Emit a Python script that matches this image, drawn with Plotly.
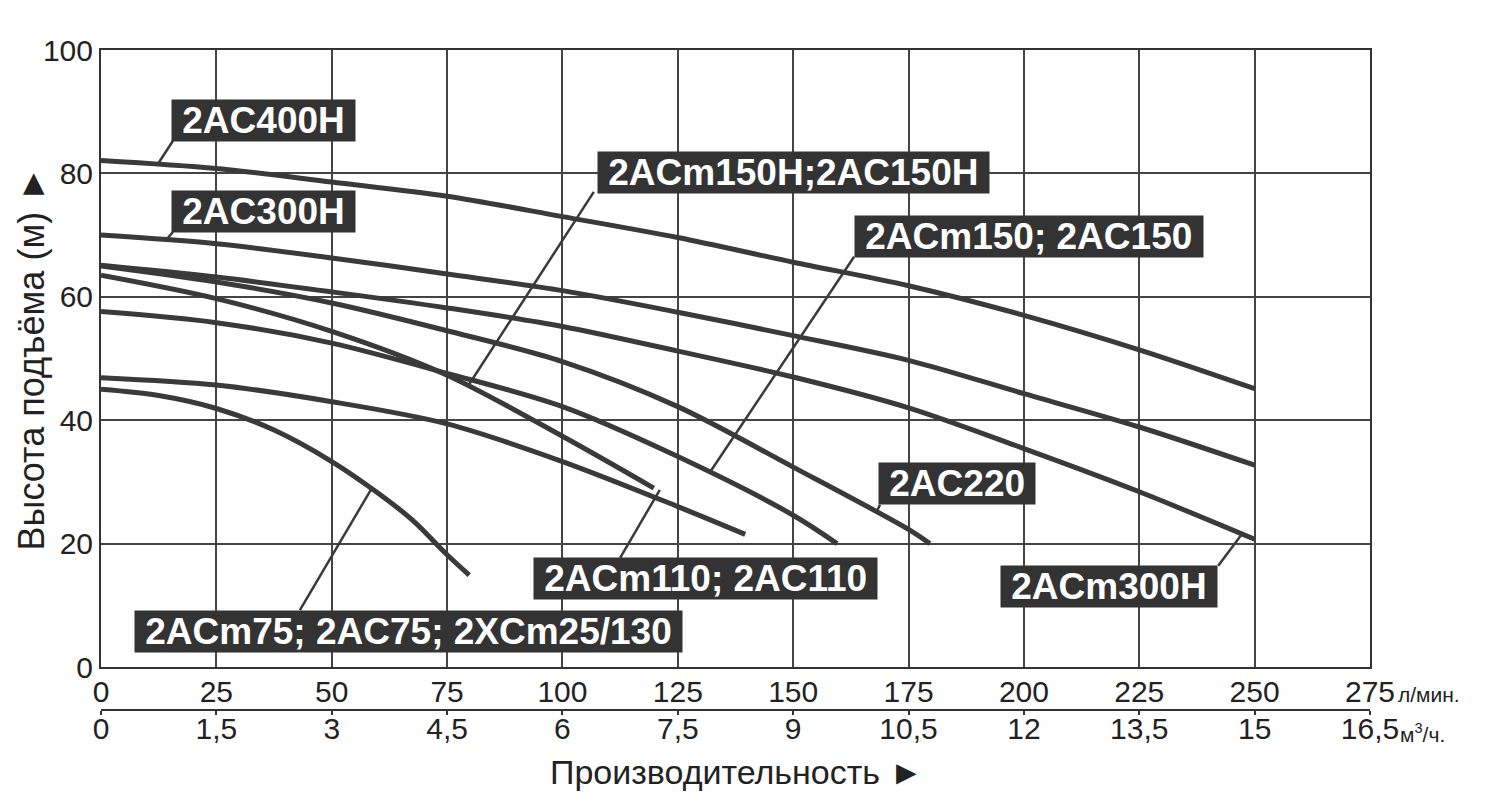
import plotly.graph_objects as go

# flow, l/min (top scale) and m3/h (bottom scale)
lpm_ticks = [0, 25, 50, 75, 100, 125, 150, 175, 200, 225, 250, 275]
m3h_ticks = [0, 1.5, 3, 4.5, 6, 7.5, 9, 10.5, 12, 13.5, 15, 16.5]
m3h_text = ["0", "1,5", "3", "4,5", "6", "7,5", "9", "10,5", "12", "13,5", "15", "16,5"]
head_ticks = [0, 20, 40, 60, 80, 100]

# pump curves (x in l/min, y in m)
x_long = [0, 25, 50, 75, 100, 125, 150, 175, 200, 225, 250]
y_400h = [82.1, 80.8, 78.6, 76.3, 73.0, 69.6, 65.6, 61.8, 57.0, 51.4, 45.1]
y_300h = [70.0, 68.6, 66.3, 63.7, 61.0, 57.5, 53.7, 49.7, 44.3, 38.9, 32.7]
y_m300h = [65.1, 63.2, 60.8, 58.2, 55.2, 51.2, 47.0, 42.0, 35.4, 28.4, 20.7]

x_220 = [0, 25, 50, 75, 100, 125, 150, 175, 179.6]
y_220 = [65.0, 62.4, 59.0, 54.5, 49.5, 42.2, 32.4, 22.3, 20.0]

x_m150h = [0, 25, 50, 75, 100, 119.8]
y_m150h = [63.5, 59.7, 54.4, 47.3, 37.4, 29.0]

x_m150 = [0, 25, 50, 75, 100, 125, 150, 159.5]
y_m150 = [57.6, 55.8, 52.5, 47.6, 42.2, 34.1, 24.6, 20.0]

x_m110 = [0, 25, 50, 75, 100, 125, 139.6]
y_m110 = [46.9, 45.7, 43.0, 39.4, 33.3, 26.0, 21.5]

x_m75 = [0, 12.5, 25, 37.5, 50, 60, 67.5, 75, 79.8]
y_m75 = [45.0, 44.0, 41.9, 38.4, 33.3, 28.2, 23.8, 18.2, 14.9]

curves = [
    (x_long, y_400h), (x_long, y_300h), (x_long, y_m300h), (x_220, y_220),
    (x_m150h, y_m150h), (x_m150, y_m150), (x_m110, y_m110), (x_m75, y_m75),
]

# labels: text, box centre, leader start, leader end (data units)
label_text = ["2AC400H", "2AC300H", "2ACm150H;2AC150H", "2ACm150; 2AC150",
              "2AC220", "2ACm110; 2AC110", "2ACm300H", "2ACm75; 2AC75; 2XCm25/130"]
label_x = [35.3, 35.3, 150.0, 201.1, 185.6, 130.9, 218.4, 66.6]
label_y = [88.6, 73.8, 80.1, 69.8, 29.7, 14.3, 13.1, 5.8]
lead_x0 = [15.6, 15.6, 106.8, 163.2, 168.8, 112.5, 242.1, 43.1]
lead_y0 = [85.3, 70.5, 77.0, 66.5, 26.3, 17.7, 16.4, 9.2]
lead_x1 = [12.4, 14.3, 79.5, 132.0, 168.0, 121.1, 247.3, 58.7]
lead_y1 = [81.6, 69.4, 45.5, 31.6, 25.0, 28.7, 21.6, 29.0]

ink = "#3a3a3a"
sans = "Liberation Sans, Arial, sans-serif"
tick_font = dict(family=sans, size=30, color="#222")

fig = go.Figure()
for xs, ys in curves:
    fig.add_trace(go.Scatter(x=xs, y=ys, mode="lines",
                             line=dict(color=ink, width=5, shape="spline", smoothing=0.9),
                             hoverinfo="skip", showlegend=False))

# invisible trace to carry the m3/h axis
fig.add_trace(go.Scatter(x=m3h_ticks, y=[0] * len(m3h_ticks), xaxis="x2", mode="markers",
                         marker=dict(opacity=0), hoverinfo="skip", showlegend=False))

for i in range(len(label_text)):
    fig.add_shape(type="line", xref="x", yref="y",
                  x0=lead_x0[i], y0=lead_y0[i], x1=lead_x1[i], y1=lead_y1[i],
                  line=dict(color=ink, width=2.5))
    fig.add_annotation(x=label_x[i], y=label_y[i], xref="x", yref="y",
                       text="<b>\u00a0" + label_text[i] + "\u00a0</b>", showarrow=False,
                       font=dict(family=sans, size=37, color="white"),
                       bgcolor="#333333", borderpad=0)

# rotated -90, so the right-pointing triangle ends up pointing up
fig.add_annotation(text="Высота подъёма (м) ►", textangle=-90, xref="paper", yref="y domain",
                   x=-0.0544, y=0.5, xanchor="center", yanchor="middle", showarrow=False,
                   font=dict(family=sans, size=36, color="#222"))
fig.add_annotation(text="Производительность ►", xref="paper", yref="paper",
                   x=0.5004, y=-0.0768, showarrow=False,
                   font=dict(family=sans, size=34, color="#222"))
fig.add_annotation(text="л/мин.", xref="paper", yref="paper", x=1.0205, y=0.0464,
                   xanchor="left", showarrow=False,
                   font=dict(family=sans, size=21, color="#222"))
fig.add_annotation(text="м<sup>3</sup>/ч.", xref="paper", yref="paper", x=1.0221, y=-0.0116,
                   xanchor="left", showarrow=False,
                   font=dict(family=sans, size=21, color="#222"))

fig.update_layout(
    width=1503, height=805,
    margin=dict(l=93, r=141, t=42, b=73),
    paper_bgcolor="white", plot_bgcolor="white",
    xaxis=dict(range=[0, 275], tickvals=lpm_ticks, showgrid=True, gridcolor="#444",
               gridwidth=1.5, showline=True, linecolor="#333", linewidth=2, mirror=True,
               ticks="", tickfont=tick_font, ticklabelstandoff=-3, zeroline=False),
    xaxis2=dict(range=[0, 16.5], tickvals=m3h_ticks, ticktext=m3h_text, overlaying="x",
                anchor="free", position=0.0435, side="bottom", showgrid=False,
                showline=True, linecolor="#333", linewidth=2, ticks="outside", ticklen=4,
                tickwidth=2, tickcolor="#333", tickfont=tick_font, ticklabelstandoff=-12,
                zeroline=False),
    yaxis=dict(range=[0, 100], domain=[0.1058, 1], tickvals=head_ticks, showgrid=True,
               gridcolor="#444", gridwidth=1.5, showline=True, linecolor="#333",
               linewidth=2, mirror=True, ticks="", tickfont=tick_font, zeroline=False),
)

fig.write_html("out.html")
